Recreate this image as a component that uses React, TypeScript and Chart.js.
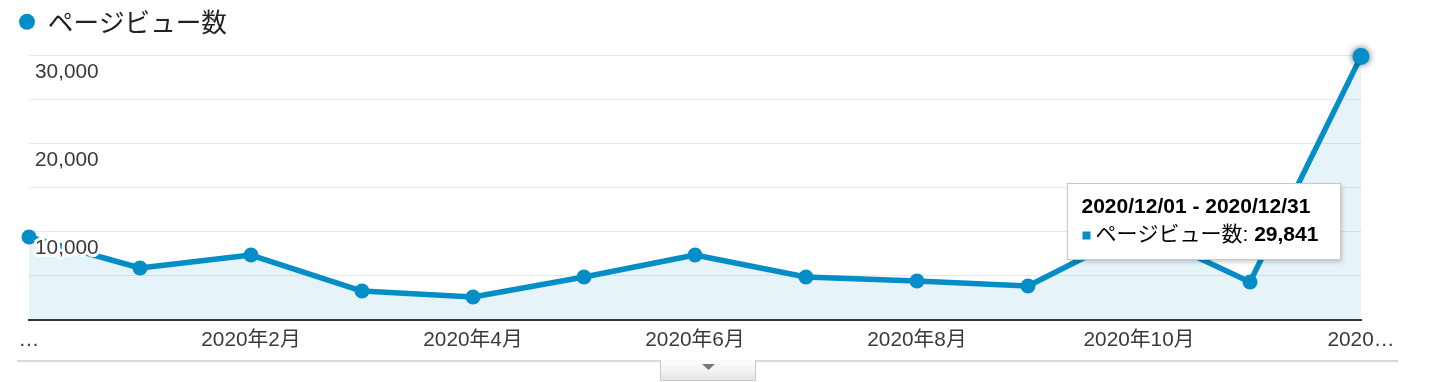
import React, { useEffect, useRef } from "react";
import { Chart, registerables } from "chart.js";

Chart.register(...registerables);

// ---- data ----
const seriesName = "ページビュー数";
const months = [
  "2019年12月", "2020年1月", "2020年2月", "2020年3月", "2020年4月", "2020年5月", "2020年6月",
  "2020年7月", "2020年8月", "2020年9月", "2020年10月", "2020年11月", "2020年12月",
];
const xTickLabels = [
  "…", "", "2020年2月", "", "2020年4月", "", "2020年6月", "", "2020年8月", "", "2020年10月", "", "2020…",
];
const pageViews = [9400, 5890, 7360, 3280, 2600, 4870, 7360, 4870, 4420, 3850, 10190, 4300, 29841];
const yMin = 0;
const yMax = 30000;
const yGridStep = 5000;
const yLabelValues = [10000, 20000, 30000];
const tooltipTitle = "2020/12/01 - 2020/12/31";
const activeIndex = 12;

// ---- styles ----
const BLUE = "#058dc7";
const FILL = "rgba(5,141,199,0.1)";
const LATIN = '"Liberation Sans", Arial, "Noto Sans CJK JP", sans-serif';
const CJK = '"Noto Sans CJK JP", "Liberation Sans", sans-serif';
const AXIS_SIZE = 20.8;
const TEXT = "#3a3a3a";

const fmt = (v: number) => v.toLocaleString("en-US");

const legendMargin = {
  id: "legendMargin",
  beforeInit(chart: any) {
    const orig = chart.legend.fit;
    chart.legend.fit = function fit() {
      orig.call(this);
      this.height = 55;
    };
  },
};

const overlays = {
  id: "overlays",
  afterDatasetsDraw(chart: any) {
    const ctx = chart.ctx as CanvasRenderingContext2D;
    const y = chart.scales.y;
    const area = chart.chartArea;
    const meta = chart.getDatasetMeta(0);
    // hovered point with shadow
    const pt = meta.data[activeIndex];
    ctx.save();
    ctx.shadowColor = "rgba(0,0,0,0.6)";
    ctx.shadowBlur = 7;
    ctx.fillStyle = BLUE;
    ctx.beginPath();
    ctx.arc(pt.x, pt.y, 8.5, 0, Math.PI * 2);
    ctx.fill();
    ctx.restore();
    // y labels with white halo, drawn below their gridline
    ctx.save();
    ctx.font = `${AXIS_SIZE}px ${LATIN}`;
    ctx.textAlign = "left";
    ctx.textBaseline = "middle";
    ctx.lineJoin = "round";
    for (const v of yLabelValues) {
      const py = y.getPixelForValue(v) + 17;
      ctx.strokeStyle = "#ffffff";
      ctx.lineWidth = 6;
      ctx.strokeText(fmt(v), area.left + 6, py);
      ctx.fillStyle = TEXT;
      ctx.fillText(fmt(v), area.left + 6, py);
    }
    ctx.restore();
  },
  afterDraw(chart: any) {
    const ctx = chart.ctx as CanvasRenderingContext2D;
    const meta = chart.getDatasetMeta(0);
    const pt = meta.data[activeIndex];
    // tooltip box
    const bx = Math.round(pt.x - 294) + 0.5;
    const by = Math.round(pt.y + 127) + 0.5;
    const bw = 273;
    const bh = 76;
    ctx.save();
    ctx.shadowColor = "rgba(0,0,0,0.25)";
    ctx.shadowBlur = 5;
    ctx.shadowOffsetX = 1;
    ctx.shadowOffsetY = 2;
    ctx.fillStyle = "#fff";
    ctx.fillRect(bx, by, bw, bh);
    ctx.restore();
    ctx.save();
    ctx.strokeStyle = "#c8c8c8";
    ctx.lineWidth = 1;
    ctx.strokeRect(bx, by, bw, bh);
    ctx.textBaseline = "middle";
    ctx.textAlign = "left";
    ctx.fillStyle = "#000";
    ctx.font = `bold 21px ${LATIN}`;
    ctx.fillText(tooltipTitle, bx + 14, by + 24);
    ctx.fillStyle = BLUE;
    ctx.fillRect(bx + 15, by + 48, 8, 8);
    ctx.fillStyle = "#000";
    ctx.font = `21px ${LATIN}`;
    const lbl = `${seriesName}: `;
    ctx.fillText(lbl, bx + 28, by + 52);
    const w = ctx.measureText(lbl).width;
    ctx.font = `bold 21px ${LATIN}`;
    ctx.fillText(fmt(pageViews[activeIndex]), bx + 28 + w, by + 52);
    ctx.restore();

    // bottom separator and tab
    ctx.save();
    ctx.fillStyle = "#d9d9d9";
    ctx.fillRect(17, 360, 1381, 2);
    const tx = 660, ty = 360, tw = 96, th = 21;
    const g = ctx.createLinearGradient(0, ty, 0, ty + th);
    g.addColorStop(0, "#ffffff");
    g.addColorStop(1, "#e4e4e4");
    ctx.fillStyle = g;
    ctx.beginPath();
    ctx.moveTo(tx, ty);
    ctx.lineTo(tx, ty + th - 2);
    ctx.quadraticCurveTo(tx, ty + th, tx + 2, ty + th);
    ctx.lineTo(tx + tw - 2, ty + th);
    ctx.quadraticCurveTo(tx + tw, ty + th, tx + tw, ty + th - 2);
    ctx.lineTo(tx + tw, ty);
    ctx.closePath();
    ctx.fill();
    ctx.strokeStyle = "#c9c9c9";
    ctx.lineWidth = 1;
    ctx.beginPath();
    ctx.moveTo(tx + 0.5, ty);
    ctx.lineTo(tx + 0.5, ty + th - 0.5);
    ctx.lineTo(tx + tw - 0.5, ty + th - 0.5);
    ctx.lineTo(tx + tw - 0.5, ty);
    ctx.stroke();
    ctx.fillStyle = "#fbfbfb";
    ctx.fillRect(tx + 1, ty, tw - 2, 2);
    ctx.fillStyle = "#777";
    ctx.beginPath();
    ctx.moveTo(tx + 42, ty + 4);
    ctx.lineTo(tx + 55, ty + 4);
    ctx.lineTo(tx + 48.5, ty + 10);
    ctx.closePath();
    ctx.fill();
    ctx.restore();
  },
};

export default function App() {
  const ref = useRef<HTMLCanvasElement | null>(null);
  useEffect(() => {
    if (!ref.current) return;
    const chart = new Chart(ref.current, {
      type: "line",
      data: {
        labels: months,
        datasets: [
          {
            label: seriesName,
            data: pageViews,
            borderColor: BLUE,
            borderWidth: 5.5,
            borderJoinStyle: "round",
            backgroundColor: FILL,
            fill: "origin",
            pointRadius: 7.5,
            pointBackgroundColor: BLUE,
            pointBorderColor: BLUE,
            pointBorderWidth: 0,
            tension: 0,
            clip: false,
          } as any,
        ],
      },
      options: {
        responsive: false,
        animation: false,
        events: [],
        layout: { padding: { left: 10, right: 79, top: 0, bottom: 21 } },
        scales: {
          x: {
            type: "category",
            offset: false,
            grid: { display: true, color: "rgba(0,0,0,0)", drawTicks: false },
            border: { display: true, color: "#333", width: 2 },
            ticks: {
              autoSkip: false,
              maxRotation: 0,
              minRotation: 0,
              padding: 8,
              color: TEXT,
              font: { size: AXIS_SIZE, family: LATIN },
              callback: (_v: any, i: number) => xTickLabels[i],
            },
          },
          y: {
            min: yMin,
            max: yMax,
            ticks: { display: false, stepSize: yGridStep },
            grid: { color: "#e8e8e8", lineWidth: 1, drawTicks: false },
            border: { display: false },
            afterFit: (s: any) => {
              s.width = 19;
            },
          },
        },
        plugins: {
          tooltip: { enabled: false },
          legend: {
            display: true,
            position: "top",
            align: "start",
            labels: {
              usePointStyle: true,
              pointStyle: "circle",
              pointStyleWidth: 16,
              boxHeight: 11.31,
              padding: 9,
              color: "#222",
              font: { size: 25.6, family: CJK },
            },
          },
        },
      } as any,
      plugins: [legendMargin, overlays],
    });
    return () => chart.destroy();
  }, []);
  return (
    <div style={{ position: "fixed", left: 0, top: 0, width: 1440, height: 382, background: "#fff" }}>
      <canvas ref={ref} width={1440} height={382} style={{ display: "block", width: 1440, height: 382 }} />
    </div>
  );
}
